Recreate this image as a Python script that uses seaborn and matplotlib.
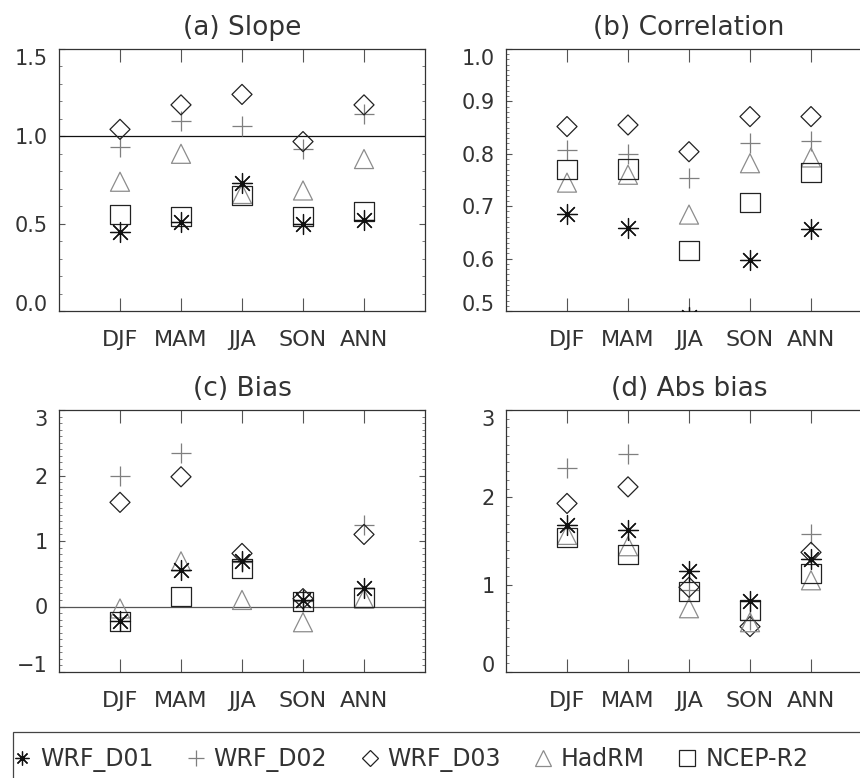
import numpy as np
import pandas as pd
import matplotlib
matplotlib.use("Agg")
import matplotlib.pyplot as plt
from matplotlib.ticker import MultipleLocator, FuncFormatter
from matplotlib.lines import Line2D
from matplotlib.patches import Rectangle
import seaborn as sns

# ---------------------------------------------------------------- data
seasons = ["DJF", "MAM", "JJA", "SON", "ANN"]
models = ["WRF_D01", "WRF_D02", "WRF_D03", "HadRM", "NCEP-R2"]

slope_d01 = [0.45, 0.51, 0.73, 0.50, 0.52]
slope_d02 = [0.94, 1.09, 1.06, 0.93, 1.13]
slope_d03 = [1.04, 1.18, 1.24, 0.97, 1.18]
slope_had = [0.74, 0.90, 0.67, 0.69, 0.87]
slope_ncep = [0.55, 0.54, 0.66, 0.54, 0.57]

corr_d01 = [0.686, 0.658, 0.488, 0.597, 0.656]
corr_d02 = [0.807, 0.800, 0.754, 0.821, 0.825]
corr_d03 = [0.852, 0.855, 0.804, 0.871, 0.871]
corr_had = [0.745, 0.760, 0.684, 0.782, 0.793]
corr_ncep = [0.770, 0.771, 0.616, 0.707, 0.765]

bias_d01 = [-0.22, 0.55, 0.70, 0.10, 0.29]
bias_d02 = [2.00, 2.34, 0.68, 0.08, 1.24]
bias_d03 = [1.59, 1.98, 0.81, 0.12, 1.10]
bias_had = [-0.03, 0.69, 0.10, -0.24, 0.12]
bias_ncep = [-0.23, 0.16, 0.58, 0.08, 0.14]

abs_d01 = [1.68, 1.63, 1.16, 0.81, 1.29]
abs_d02 = [2.34, 2.50, 0.94, 0.59, 1.58]
abs_d03 = [1.93, 2.12, 0.97, 0.52, 1.37]
abs_had = [1.57, 1.44, 0.73, 0.57, 1.05]
abs_ncep = [1.54, 1.34, 0.92, 0.71, 1.13]

panel_titles = ["(a) Slope", "(b) Correlation", "(c) Bias", "(d) Abs bias"]

panels = [
    [slope_d01, slope_d02, slope_d03, slope_had, slope_ncep],
    [corr_d01, corr_d02, corr_d03, corr_had, corr_ncep],
    [bias_d01, bias_d02, bias_d03, bias_had, bias_ncep],
    [abs_d01, abs_d02, abs_d03, abs_had, abs_ncep],
]

# ---------------------------------------------------------------- styling
sns.set_theme(style="white")
plt.rcParams["font.family"] = ["DejaVu Sans"]
TXT = "#333333"
AX = "#333333"

# marker, size (pt), colour, filled?, linewidth
styles = {
    "WRF_D01": ((8, 2, 0), 14.4, "#111111", False, 0.9),
    "WRF_D02": ("+", 14.4, "#7f7f7f", False, 0.9),
    "WRF_D03": ("D", 10.2, "#222222", True, 0.9),
    "HadRM": ("^", 13.7, "#8c8c8c", True, 0.9),
    "NCEP-R2": ("s", 13.7, "#222222", True, 0.9),
}
legend_sizes = {"WRF_D01": 10, "WRF_D02": 11.5, "WRF_D03": 8.5,
                "HadRM": 12, "NCEP-R2": 11}
draw_order = ["WRF_D02", "WRF_D03", "HadRM", "NCEP-R2", "WRF_D01"]


def make_fmt(decimals):
    def fmt(v, pos):
        return f"{v:.{decimals}f}".replace("-", "\u2212")
    return FuncFormatter(fmt)


W, H = 860, 778
fig = plt.figure(figsize=(W / 100, H / 100), dpi=100)

boxes = [(59, 49, 366, 262), (506, 49, 366, 262),
         (59, 410, 366, 262), (506, 410, 366, 262)]
ylims = [(0.0, 1.5), (0.5, 1.0), (-1.0, 3.0), (0.0, 3.0)]
ymajor = [0.5, 0.1, 1.0, 1.0]
yminor = [0.1, 0.01, 0.1, 0.1]
ydec = [1, 1, 0, 0]
hlines = [(1.0, "#111111"), None, (0.0, "#555555"), None]

for i, (box, vals) in enumerate(zip(boxes, panels)):
    x0, y0, w, h = box
    ax = fig.add_axes([x0 / W, 1 - (y0 + h) / H, w / W, h / H])
    ax.set_facecolor("white")

    if hlines[i] is not None:
        ax.axhline(hlines[i][0], color=hlines[i][1], lw=0.9, zorder=1)

    for name in draw_order:
        v = vals[models.index(name)]
        m, ms, c, filled, lw = styles[name]
        df = pd.DataFrame({"season": seasons, "value": v})
        if filled:
            sns.scatterplot(data=df, x="season", y="value", marker=m,
                            s=ms ** 2, color=c, facecolor="none",
                            edgecolor=c, linewidth=lw, ax=ax, zorder=3)
        else:
            sns.scatterplot(data=df, x="season", y="value", marker=m,
                            s=ms ** 2, color=c, linewidth=lw, ax=ax,
                            zorder=3)

    ax.set_xlim(-1, 5)
    ax.set_ylim(*ylims[i])
    ax.set_xlabel("")
    ax.set_ylabel("")
    ax.set_title(panel_titles[i], fontsize=19, color=TXT, pad=10)

    lo, hi = ylims[i]
    ticks = np.round(np.arange(lo, hi + 1e-9, ymajor[i]), 3)
    ax.set_yticks(ticks)
    ax.yaxis.set_major_formatter(make_fmt(ydec[i]))
    ax.yaxis.set_minor_locator(MultipleLocator(yminor[i]))

    ax.tick_params(axis="x", which="major", direction="in", length=9.2,
                   width=0.8, color="#555555", top=True, bottom=True,
                   labelsize=16, labelcolor=TXT, pad=14)
    ax.tick_params(axis="y", which="major", direction="in", length=4,
                   width=0.8, color="#555555", left=True, right=True,
                   labelsize=15, labelcolor=TXT, pad=8)
    ax.tick_params(axis="y", which="minor", direction="in", length=2.5,
                   width=0.6, color="#666666", left=True, right=True)

    for sp in ax.spines.values():
        sp.set_color(AX)
        sp.set_linewidth(0.9)

    # keep the end labels inside the frame
    fig.canvas.draw()
    labels = ax.get_yticklabels()
    labels[-1].set_verticalalignment("top")
    labels[0].set_verticalalignment("baseline")

# ---------------------------------------------------------------- legend
handles = []
for name in models:
    m, ms, c, filled, lw = styles[name]
    handles.append(Line2D([], [], ls="none", marker=m,
                          markersize=legend_sizes[name],
                          markerfacecolor="none" if filled else c,
                          markeredgecolor=c, markeredgewidth=lw, color=c))

fig.legend(handles, models, ncol=5, frameon=False, fontsize=17,
           loc="center left", bbox_to_anchor=(14 / W, 1 - 760 / H),
           borderpad=0, borderaxespad=0, handlelength=0.7,
           handletextpad=0.4, columnspacing=1.45, labelcolor=TXT)

fig.patches.append(Rectangle((12.7 / W, -0.05), 1.1, 0.05 + 1 - 732 / H,
                             transform=fig.transFigure, fill=False,
                             edgecolor="#444444", lw=0.9, clip_on=False))

fig.savefig("out.png", dpi=100)
